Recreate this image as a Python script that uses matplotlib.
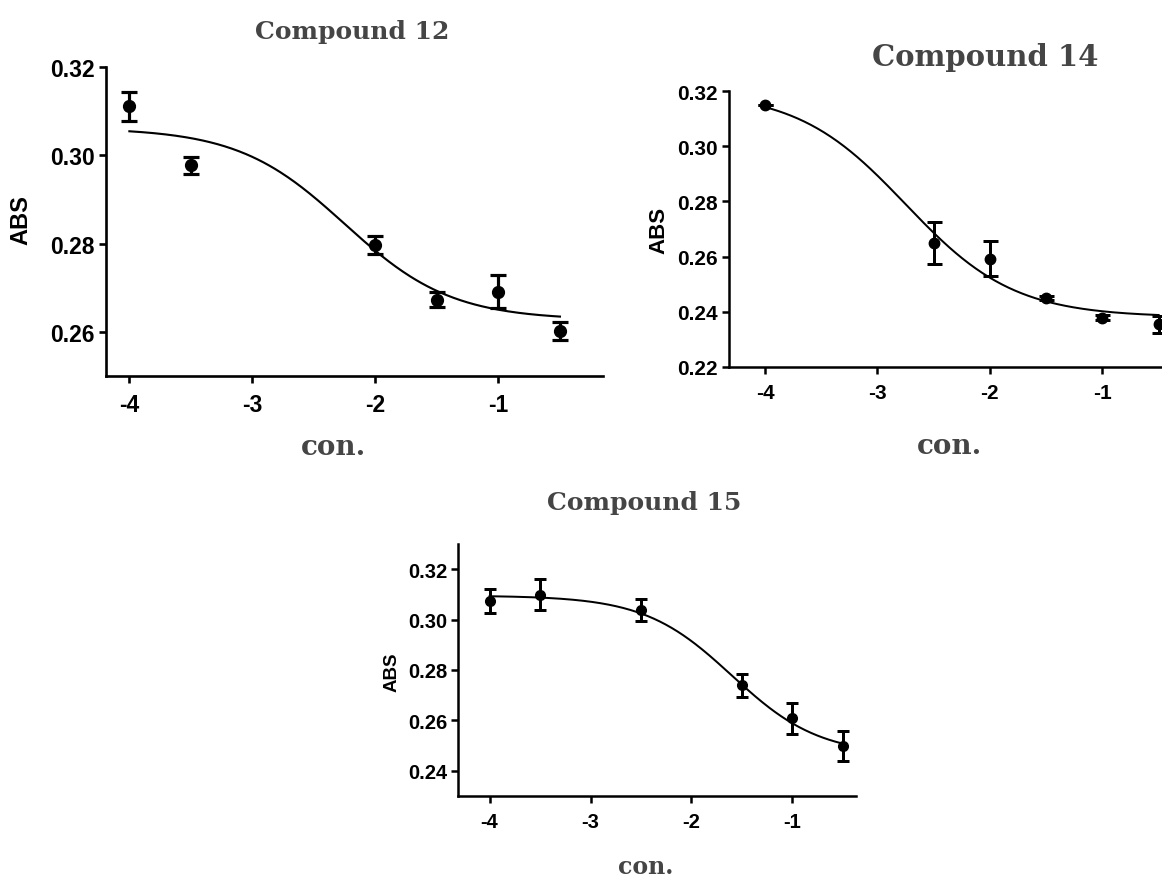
import numpy as np
import matplotlib
matplotlib.use("Agg")
from matplotlib import pyplot as plt

# log concentration and mean absorbance (ABS) with error bars
x12 = [-4, -3.5, -2, -1.5, -1, -0.5]
abs12 = [0.3111, 0.2977, 0.2797, 0.2673, 0.2691, 0.2602]
err12 = [0.0033, 0.0020, 0.0020, 0.0017, 0.0038, 0.0020]

x14 = [-4, -2.5, -2, -1.5, -1, -0.5]
abs14 = [0.3150, 0.2649, 0.2592, 0.2449, 0.2378, 0.2354]
err14 = [0.0, 0.0077, 0.0063, 0.0008, 0.0010, 0.0030]

x15 = [-4, -3.5, -2.5, -1.5, -1, -0.5]
abs15 = [0.3073, 0.3098, 0.3038, 0.2738, 0.2607, 0.2497]
err15 = [0.0048, 0.0061, 0.0042, 0.0045, 0.0060, 0.0060]

# four parameter logistic fits: top, bottom, logEC50, hill slope
fit12 = [0.3062, 0.2627, -2.25, 1.0]
fit14 = [0.3200, 0.2380, -2.75, 0.9]
fit15 = [0.3095, 0.2460, -1.60, 1.0]

W, H = 1162, 879
plt.rcParams['axes.unicode_minus'] = False
fig = plt.figure(figsize=(W / 100, H / 100), dpi=100)

def px(x, y):
    return x / W, 1 - y / H

def logistic(x, p):
    top, bottom, logec50, hill = p
    return bottom + (top - bottom) / (1 + 10 ** ((x - logec50) * hill))

def panel(rect, x, y, err, fit, xlim, ylim, yticks, fs, ms, cap, lw):
    ax = fig.add_axes(rect)
    xx = np.linspace(-4, -0.5, 300)
    ax.plot(xx, logistic(xx, fit), color='black', linewidth=lw * 0.8)
    ax.errorbar(x, y, yerr=err, fmt='o', color='black', markersize=ms,
                capsize=cap, elinewidth=lw * 1.2, capthick=lw * 1.2)
    ax.set_xlim(xlim)
    ax.set_ylim(ylim)
    ax.set_xticks([-4, -3, -2, -1])
    ax.set_xticklabels(['-4', '-3', '-2', '-1'])
    ax.set_yticks(yticks)
    ax.set_yticklabels(['%.2f' % t for t in yticks])
    for side in ['top', 'right']:
        ax.spines[side].set_visible(False)
    for side in ['left', 'bottom']:
        ax.spines[side].set_linewidth(lw)
    ax.tick_params(axis='both', direction='out', length=5, width=lw)
    ax.tick_params(axis='x', pad=7)
    ax.tick_params(axis='y', pad=3)
    for lab in ax.get_xticklabels() + ax.get_yticklabels():
        lab.set_fontfamily('Liberation Sans')
        lab.set_fontweight('bold')
        lab.set_fontsize(fs)
    return ax

# Compound 12
panel([106 / W, 1 - 377 / H, 497 / W, 309 / H], x12, abs12, err12, fit12,
      (-4.19, -0.15), (0.25, 0.32), [0.26, 0.28, 0.30, 0.32],
      16.5, 8.5, 5.8, 1.9)
# Compound 14
panel([729 / W, 1 - 367.7 / H, 469 / W, 275.4 / H], x14, abs14, err14, fit14,
      (-4.32, -0.15), (0.22, 0.32), [0.22, 0.24, 0.26, 0.28, 0.30, 0.32],
      15, 7.5, 5.4, 1.8)
# Compound 15
panel([458.3 / W, 1 - 796.7 / H, 397.7 / W, 251.7 / H], x15, abs15, err15, fit15,
      (-4.31, -0.37), (0.23, 0.33), [0.24, 0.26, 0.28, 0.30, 0.32],
      14.5, 7, 4.5, 1.8)

title_color = '#454545'
serif = dict(family='DejaVu Serif', weight='bold', color=title_color,
             ha='center', va='center')
sans = dict(family='Liberation Sans', weight='bold', color='black',
            ha='center', va='center', rotation=90)

fig.text(*px(352, 32), 'Compound 12', fontsize=18, **serif)
fig.text(*px(985, 57), 'Compound 14', fontsize=21, **serif)
fig.text(*px(644, 503), 'Compound 15', fontsize=18, **serif)

fig.text(*px(333, 448), 'con.', fontsize=20, **serif)
fig.text(*px(949, 447), 'con.', fontsize=20, **serif)
fig.text(*px(646, 867), 'con.', fontsize=17, **serif)

fig.text(*px(21, 220), 'ABS', fontsize=17, **sans)
fig.text(*px(659, 230), 'ABS', fontsize=16, **sans)
fig.text(*px(392, 672), 'ABS', fontsize=13.5, **sans)

fig.savefig('out.png', dpi=100)
